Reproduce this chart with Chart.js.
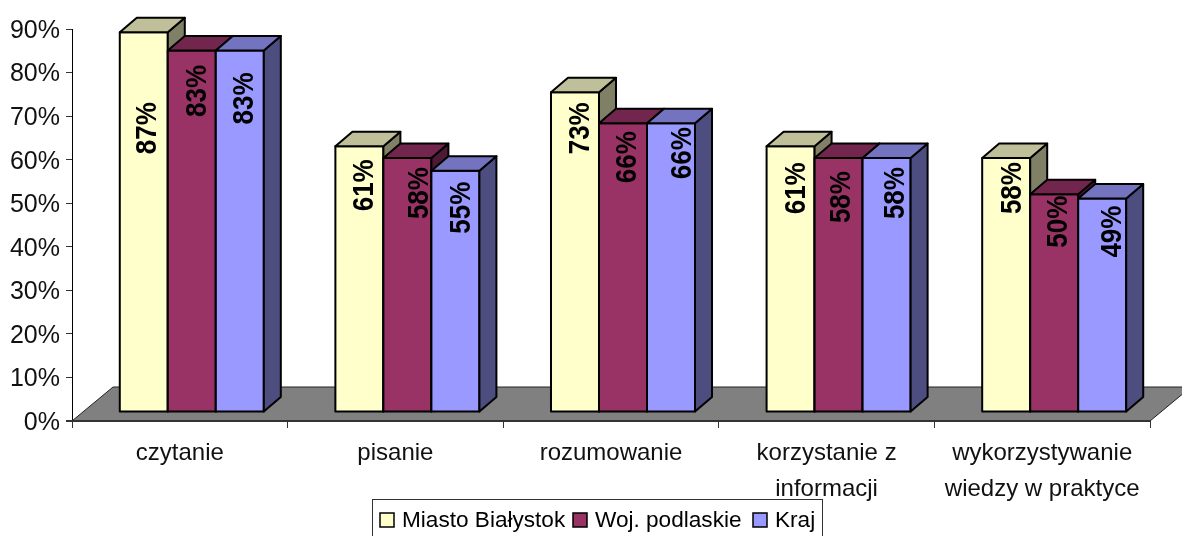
<!DOCTYPE html>
<html>
<head>
<meta charset="utf-8">
<style>
  html, body { margin: 0; padding: 0; background: #fff; overflow: hidden; }
  canvas { display: block; }
</style>
<script src="https://cdn.jsdelivr.net/npm/chart.js@4"></script>
</head>
<body>
<canvas id="c" width="1182" height="536"></canvas>
<script>
const categories = ['czytanie', 'pisanie', 'rozumowanie', ['korzystanie z', 'informacji'], ['wykorzystywanie', 'wiedzy w praktyce']];
const seriesNames = ['Miasto Białystok', 'Woj. podlaskie', 'Kraj'];
// bar heights; the printed labels are these rounded
const miastoBialystok = [87.2, 61, 73.4, 61, 58.3];
const wojPodlaskie = [83, 58.3, 66.3, 58.3, 50];
const kraj = [83, 55.4, 66.3, 58.3, 49];

// where each value label sits relative to its bar (per series, per category)
const labelShiftX = [[2, 3.5, 4, 4, 4], [3.5, 10, 3, 1, 2], [2.5, 4, 10, 7, 8]];
const labelShiftY = [[96, 39, 36, 42, 30], [40.5, 35, 34, 39, 27.5], [48, 37, 30, 35, 33]];

const FRONT = ['#FFFFCC', '#993366', '#9999FF'];
const TOP = ['#BFBF99', '#73264D', '#7373BF'];
const SIDE = ['#808066', '#4D1A33', '#4D4D80'];

const FONT = '"Liberation Sans", Arial, sans-serif';

function face(ctx, pts, fill) {
  ctx.beginPath();
  pts.forEach((p, i) => i ? ctx.lineTo(p[0], p[1]) : ctx.moveTo(p[0], p[1]));
  ctx.closePath();
  ctx.fillStyle = fill;
  ctx.fill();
  ctx.stroke();
}

// fake 3D: floor + extruded bars, drawn in series order so later bars cover earlier sides
const bars3d = {
  id: 'bars3d',
  beforeDatasetsDraw(chart) {
    const { ctx, chartArea: a } = chart;
    const floorX = 41, floorY = 34;   // floor depth
    const shiftX = 12, shiftY = 9;    // bars stand part way into the floor
    const dx = 17, dy = 14.5;         // bar depth

    ctx.save();
    ctx.lineWidth = 1;
    ctx.strokeStyle = '#222';
    face(ctx, [[a.left, a.bottom], [a.right, a.bottom], [a.right + floorX, a.bottom - floorY], [a.left + floorX, a.bottom - floorY]], '#808080');
    ctx.lineWidth = 2;
    ctx.strokeStyle = '#333';
    ctx.beginPath();
    ctx.moveTo(a.left - 6, a.bottom);
    ctx.lineTo(a.right, a.bottom);
    ctx.stroke();

    ctx.lineWidth = 2;
    ctx.strokeStyle = '#000';
    ctx.lineJoin = 'round';
    chart.data.datasets.forEach((ds, s) => {
      chart.getDatasetMeta(s).data.forEach(bar => {
        const l = bar.x - bar.width / 2 + shiftX, r = bar.x + bar.width / 2 + shiftX;
        const t = bar.y - shiftY, b = bar.base - shiftY;
        face(ctx, [[l, t], [r, t], [r, b], [l, b]], FRONT[s]);
        face(ctx, [[r, t], [r + dx, t - dy], [r + dx, b - dy], [r, b]], SIDE[s]);
        face(ctx, [[l, t], [l + dx, t - dy], [r + dx, t - dy], [r, t]], TOP[s]);
      });
    });

    ctx.fillStyle = '#000';
    ctx.font = 'bold 26px ' + FONT;
    ctx.textAlign = 'center';
    ctx.textBaseline = 'alphabetic';
    chart.data.datasets.forEach((ds, s) => {
      chart.getDatasetMeta(s).data.forEach((bar, i) => {
        ctx.save();
        ctx.translate(bar.x + shiftX + labelShiftX[s][i], bar.y - shiftY + labelShiftY[s][i]);
        ctx.rotate(-Math.PI / 2);
        ctx.scale(1, 1.12); // reference text is a bit stretched
        ctx.fillText(Math.round(ds.data[i]) + '%', 0, 9.3);
        ctx.restore();
      });
    });
    ctx.restore();
    return false; // everything drawn above
  },
  afterDraw(chart) {
    const { ctx } = chart;
    ctx.save();
    ctx.fillStyle = '#fff';
    ctx.strokeStyle = '#333';
    ctx.lineWidth = 1;
    ctx.fillRect(373, 499, 450, 40);
    ctx.strokeRect(372.5, 499.5, 450, 40);
    const boxX = [380, 573, 753];
    ctx.font = '22.6px ' + FONT;
    ctx.textBaseline = 'middle';
    ctx.textAlign = 'left';
    seriesNames.forEach((name, i) => {
      ctx.fillStyle = FRONT[i];
      ctx.fillRect(boxX[i], 513, 14, 14);
      ctx.strokeStyle = '#000';
      ctx.lineWidth = 1.5;
      ctx.strokeRect(boxX[i], 513, 14, 14);
      ctx.fillStyle = '#000';
      ctx.fillText(name, boxX[i] + 22, 521);
    });
    ctx.restore();
  }
};

new Chart(document.getElementById('c'), {
  type: 'bar',
  data: {
    labels: categories,
    datasets: [
      { label: seriesNames[0], data: miastoBialystok, backgroundColor: FRONT[0] },
      { label: seriesNames[1], data: wojPodlaskie, backgroundColor: FRONT[1] },
      { label: seriesNames[2], data: kraj, backgroundColor: FRONT[2] },
    ],
  },
  options: {
    responsive: false,
    animation: false,
    layout: { padding: { top: 29, right: 32, left: 0, bottom: 0 } },
    plugins: { legend: { display: false }, tooltip: { enabled: false } },
    datasets: { bar: { barPercentage: 1, categoryPercentage: 0.668 } },
    scales: {
      x: {
        afterFit(scale) { scale.height = 115; },
        grid: { drawOnChartArea: false, color: '#333', tickLength: 7 },
        border: { color: '#333', width: 1 },
        ticks: {
          color: '#111', maxRotation: 0, autoSkip: false, padding: 7,
          font: { family: FONT, size: 24, lineHeight: 1.5 },
        },
      },
      y: {
        min: 0,
        max: 90,
        afterFit(scale) { scale.width = 72; },
        grid: { drawOnChartArea: false, color: '#333', tickLength: 6 },
        border: { color: '#000', width: 1 },
        ticks: {
          stepSize: 10, color: '#111', padding: 6, labelOffset: 2,
          font: { family: FONT, size: 25 },
          callback: v => v + '%',
        },
      },
    },
  },
  plugins: [bars3d],
});
</script>
</body>
</html>
